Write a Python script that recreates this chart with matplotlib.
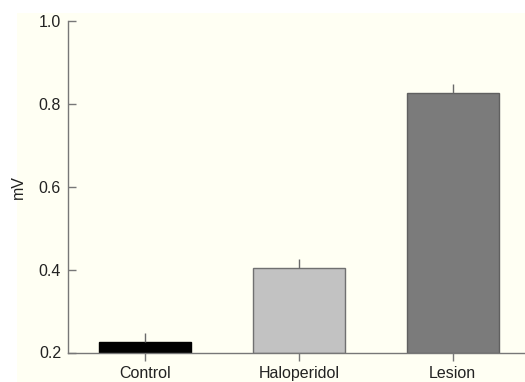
import matplotlib.pyplot as plt
from matplotlib.patches import Rectangle

# group means (mV) and upper error
groups = ["Control", "Haloperidol", "Lesion"]
means = [0.225, 0.404, 0.826]
errs = [0.022, 0.021, 0.022]
fills = ["#000000", "#c2c2c2", "#7b7b7b"]
edges = ["#000000", "#707070", "#606060"]

plt.rcParams['font.family'] = ['Liberation Sans', 'DejaVu Sans']

fig = plt.figure(figsize=(5.25, 3.82), dpi=100)
fig.patch.set_facecolor("white")
# cream panel behind everything
fig.patches.append(Rectangle((17/525, 0), 1 - 17/525, 1 - 13/382,
                             transform=fig.transFigure, facecolor="#fffff3",
                             edgecolor="none", zorder=-10))

ax = fig.add_axes([68/525, (382-352.5)/382, (525-68)/525, (352.5-21)/382])
ax.set_facecolor("none")

x = range(len(groups))
ax.bar(x, [m - 0.2 for m in means], bottom=0.2, width=0.6,
       color=fills, edgecolor=edges, linewidth=1.0, zorder=2)
ax.errorbar(x, means, yerr=[[0]*3, errs], fmt="none", ecolor="#6a6a6a",
            elinewidth=1.0, capsize=0, zorder=3)

ax.set_xlim(-0.5, 2.47)
ax.set_ylim(0.2, 1.0)
ax.set_yticks([0.2, 0.4, 0.6, 0.8, 1.0])
ax.set_yticklabels(["0.2", "0.4", "0.6", "0.8", "1.0"])
ax.set_xticks(list(x))
ax.set_xticklabels(groups)
ax.set_ylabel("mV", fontsize=11.5, color="#222222", labelpad=9)

for s in ["top", "right"]:
    ax.spines[s].set_visible(False)
for s in ["left", "bottom"]:
    ax.spines[s].set_color("#777777")
    ax.spines[s].set_linewidth(1.0)

ax.tick_params(axis="y", direction="in", length=6, width=1.0, color="#777777",
               labelsize=11.5, labelcolor="#222222", pad=5)
ax.tick_params(axis="x", direction="out", length=6, width=1.0, color="#777777",
               labelsize=11.5, labelcolor="#222222", pad=4)

fig.savefig("out.png", dpi=100, facecolor=fig.get_facecolor())
